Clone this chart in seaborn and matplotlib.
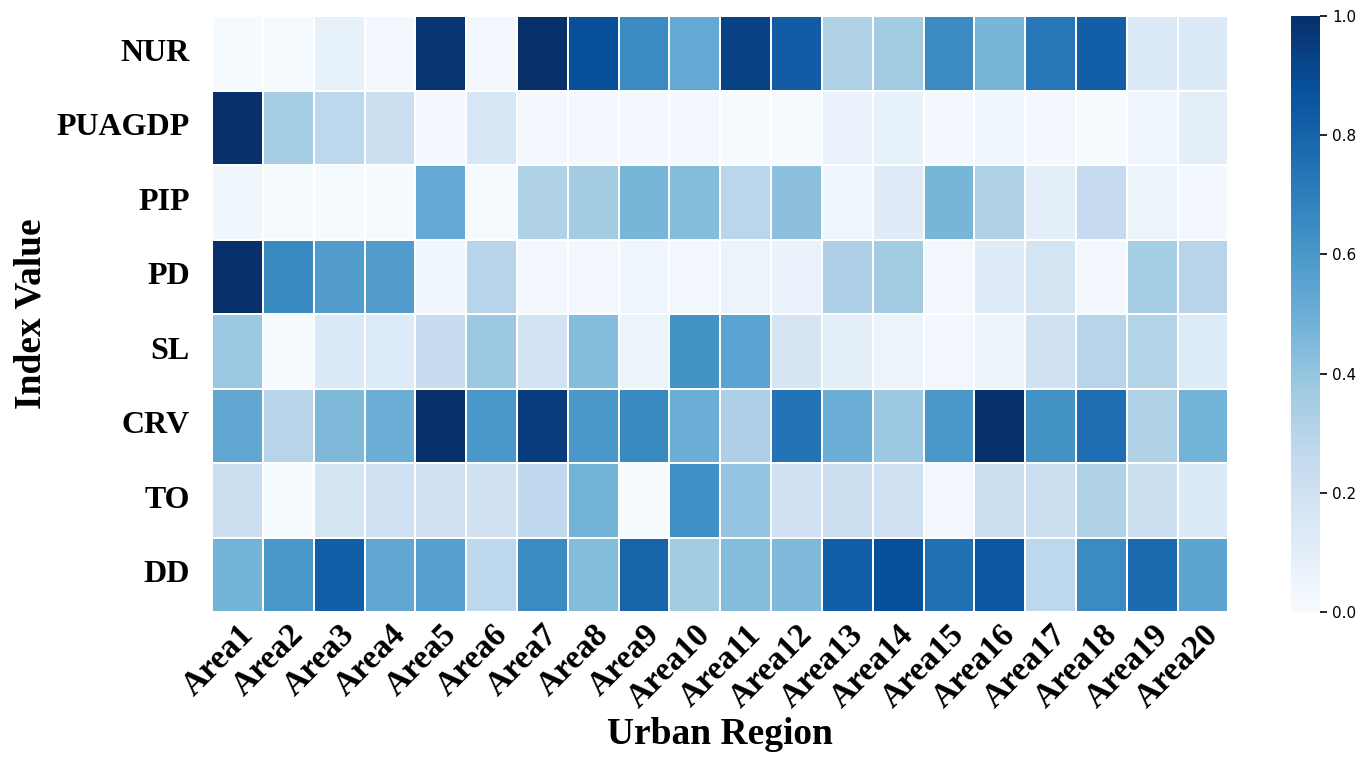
import numpy as np
import pandas as pd
import matplotlib
matplotlib.use('Agg')
import matplotlib.pyplot as plt
import seaborn as sns

# index names (rows) and urban regions (columns)
indices = ['NUR', 'PUAGDP', 'PIP', 'PD', 'SL', 'CRV', 'TO', 'DD']
regions = ['Area%d' % i for i in range(1, 21)]

# normalised index values, one list per row
nur = [0.01, 0.01, 0.08, 0.02, 0.98, 0.02, 1.00, 0.88, 0.65, 0.52,
       0.93, 0.83, 0.32, 0.36, 0.65, 0.47, 0.73, 0.82, 0.14, 0.14]
puagdp = [1.00, 0.35, 0.28, 0.22, 0.02, 0.16, 0.02, 0.02, 0.02, 0.02,
          0.01, 0.01, 0.07, 0.08, 0.02, 0.04, 0.02, 0.01, 0.05, 0.10]
pip = [0.04, 0.01, 0.01, 0.01, 0.52, 0.01, 0.32, 0.36, 0.47, 0.44,
       0.29, 0.42, 0.05, 0.12, 0.47, 0.32, 0.10, 0.25, 0.06, 0.02]
pd_ = [1.00, 0.66, 0.58, 0.58, 0.04, 0.30, 0.02, 0.03, 0.05, 0.03,
       0.06, 0.07, 0.33, 0.36, 0.03, 0.12, 0.18, 0.02, 0.35, 0.30]
sl = [0.38, 0.01, 0.14, 0.13, 0.24, 0.38, 0.19, 0.44, 0.06, 0.62,
      0.55, 0.17, 0.10, 0.06, 0.03, 0.06, 0.20, 0.30, 0.31, 0.13]
crv = [0.53, 0.30, 0.45, 0.50, 1.00, 0.60, 0.95, 0.60, 0.66, 0.50,
       0.33, 0.74, 0.50, 0.38, 0.60, 1.00, 0.62, 0.76, 0.32, 0.48]
to = [0.22, 0.01, 0.18, 0.21, 0.21, 0.20, 0.27, 0.48, 0.01, 0.63,
      0.40, 0.21, 0.22, 0.21, 0.02, 0.22, 0.22, 0.32, 0.22, 0.14]
dd = [0.48, 0.60, 0.82, 0.53, 0.57, 0.28, 0.65, 0.44, 0.80, 0.36,
      0.44, 0.45, 0.82, 0.88, 0.75, 0.85, 0.28, 0.65, 0.78, 0.54]

df = pd.DataFrame([nur, puagdp, pip, pd_, sl, crv, to, dd],
                  index=indices, columns=regions)

sns.set_theme(style='ticks')
plt.rcParams['font.family'] = ['Liberation Serif', 'DejaVu Serif']
for k in ['text.color', 'axes.labelcolor', 'xtick.color', 'ytick.color']:
    plt.rcParams[k] = 'black'

fig = plt.figure(figsize=(13.68, 7.66), dpi=100)
ax = fig.add_axes([0.155, 0.201, 0.743, 0.778])
cax = fig.add_axes([0.944, 0.201, 0.021, 0.778])

sns.heatmap(df, cmap='Blues', vmin=0, vmax=1, linewidths=1.2,
            linecolor='white', ax=ax, cbar_ax=cax)

ax.tick_params(axis='y', length=0, pad=16)
ax.tick_params(axis='x', length=0, pad=5)
ax.set_xticklabels(regions, rotation=45, ha='right', rotation_mode='anchor',
                   fontsize=24, fontweight='bold')
ax.set_yticklabels(indices, rotation=0, fontsize=23, fontweight='bold')
ax.set_xlabel('Urban Region', fontsize=27, fontweight='bold', labelpad=2)
ax.set_ylabel('Index Value', fontsize=27, fontweight='bold', labelpad=6)

cax.set_yticks([0.0, 0.2, 0.4, 0.6, 0.8, 1.0])
cax.set_yticklabels(['0.0', '0.2', '0.4', '0.6', '0.8', '1.0'],
                    family='DejaVu Sans', fontsize=11)
cax.tick_params(length=5, width=1.2, color='black')
for s in cax.spines.values():
    s.set_visible(False)

fig.savefig('out.png', dpi=100)
